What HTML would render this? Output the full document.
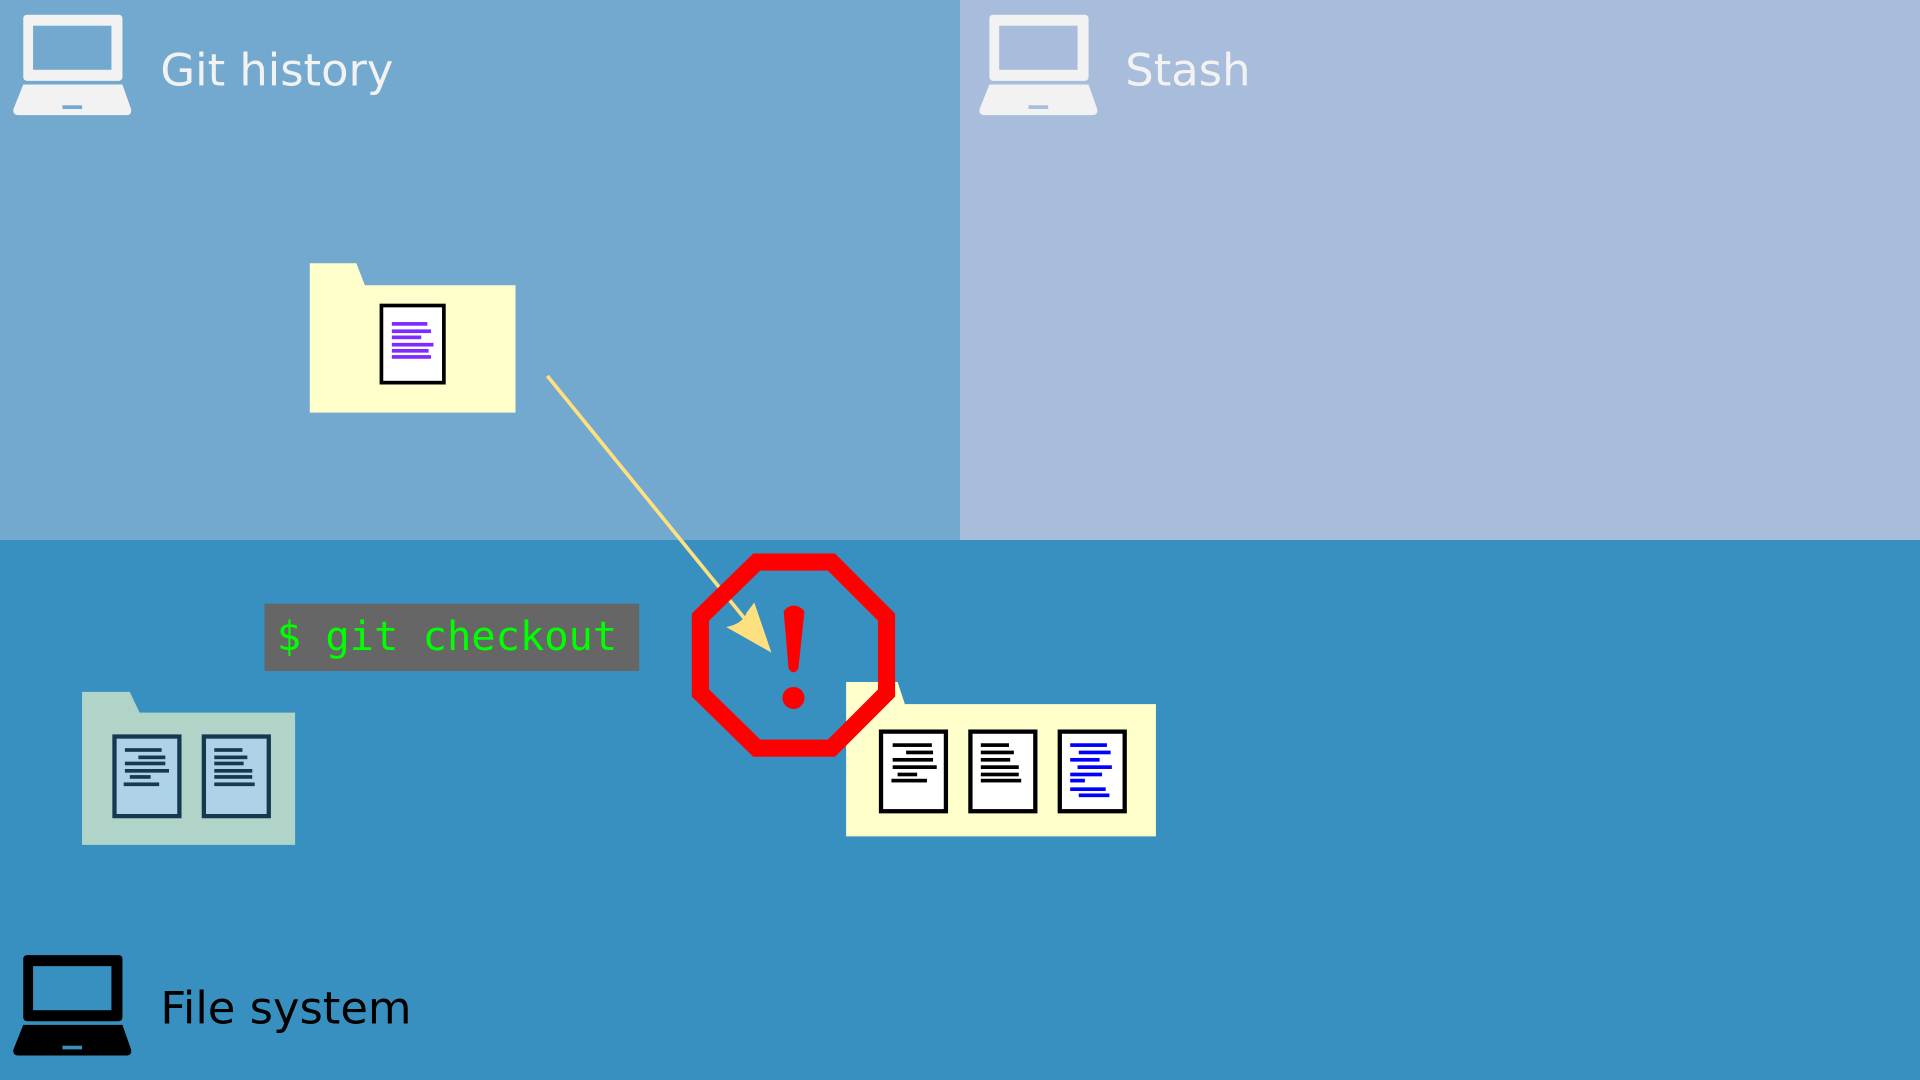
<!DOCTYPE html>
<html><head><meta charset="utf-8"><style>html,body{margin:0;padding:0;width:1920px;height:1080px;overflow:hidden}</style></head>
<body>
<svg width="1920" height="1080" viewBox="0 0 1568 882" xmlns="http://www.w3.org/2000/svg">
<rect x="0" y="0" width="784" height="441" fill="#73a8cf"/>
<rect x="784" y="0" width="784" height="441" fill="#a8bcdb"/>
<rect x="0" y="441" width="1568" height="441" fill="#3790c0"/>

<!-- laptops -->
<g fill="#f2f2f2">
<rect x="19" y="12" width="81" height="54" rx="3"/>
<path d="M19,69 L100,69 L107,89 Q108,94 103,94 L15,94 Q10,94 11,89 Z"/>
</g>
<rect x="27" y="21" width="64" height="36" fill="#73a8cf"/>
<rect x="51" y="86" width="16" height="3" fill="#73a8cf"/>
<text x="131" y="70" font-family="DejaVu Sans, Liberation Sans, sans-serif" font-size="36.6" fill="#f2f2f2">Git history</text>

<g transform="translate(789,0)">
<g fill="#f2f2f2">
<rect x="19" y="12" width="81" height="54" rx="3"/>
<path d="M19,69 L100,69 L107,89 Q108,94 103,94 L15,94 Q10,94 11,89 Z"/>
</g>
<rect x="27" y="21" width="64" height="36" fill="#a8bcdb"/>
<rect x="51" y="86" width="16" height="3" fill="#a8bcdb"/>
</g>
<text x="919" y="70" font-family="DejaVu Sans, Liberation Sans, sans-serif" font-size="36.6" fill="#f2f2f2">Stash</text>

<g transform="translate(0,768)">
<g fill="#000">
<rect x="19" y="12" width="81" height="54" rx="3"/>
<path d="M19,69 L100,69 L107,89 Q108,94 103,94 L15,94 Q10,94 11,89 Z"/>
</g>
<rect x="27" y="21" width="64" height="36" fill="#3790c0"/>
<rect x="51" y="86" width="16" height="3" fill="#3790c0"/>
</g>
<text x="131" y="836" font-family="DejaVu Sans, Liberation Sans, sans-serif" font-size="36.6" fill="#000">File system</text>

<!-- top folder -->
<path d="M253,215 L291,215 L298,233 L421,233 L421,337 L253,337 Z" fill="#ffffcc"/>
<rect x="311.5" y="249.5" width="51" height="63" fill="#fff" stroke="#000" stroke-width="3"/>
<g fill="#7f2aff">
<rect x="320" y="263" width="29" height="3"/><rect x="320" y="269" width="32" height="3"/>
<rect x="320" y="274" width="24" height="3"/><rect x="320" y="280" width="34" height="3"/>
<rect x="320" y="285" width="30" height="3"/><rect x="320" y="290" width="32" height="3"/>
</g>

<!-- arrow -->
<line x1="447" y1="307" x2="608" y2="505" stroke="#ffe080" stroke-width="3"/>
<path d="M630,533 L593,512 Q606,510 610,500 L616,492 Z" fill="#ffe080"/>

<!-- gray command -->
<rect x="216" y="493" width="306" height="55" fill="#666"/>
<text x="226" y="531" font-family="DejaVu Sans Mono, Liberation Mono, monospace" font-size="33" fill="#00ff00">$ git checkout</text>

<!-- left folder -->
<path d="M67,565 L106,565 L114,582 L241,582 L241,690 L67,690 Z" fill="#b0d4c8"/>
<rect x="93.5" y="601.5" width="53" height="65" fill="#afd3e6" stroke="#17394f" stroke-width="3.5"/>
<rect x="166.5" y="601.5" width="53" height="65" fill="#afd3e6" stroke="#17394f" stroke-width="3.5"/>
<g fill="#17394f">
<rect x="102" y="611" width="30" height="3"/><rect x="113" y="617" width="22" height="3"/>
<rect x="102" y="622" width="33" height="3"/><rect x="102" y="628" width="36" height="3"/>
<rect x="106" y="633" width="17" height="3"/><rect x="101" y="639" width="29" height="3"/>
<rect x="175" y="611" width="23" height="3"/><rect x="175" y="617" width="27" height="3"/>
<rect x="175" y="622" width="24" height="3"/><rect x="175" y="628" width="31" height="3"/>
<rect x="175" y="633" width="31" height="3"/><rect x="175" y="639" width="33" height="3"/>
</g>

<!-- right folder -->
<path d="M691,557 L733,557 L739,575 L944,575 L944,683 L691,683 Z" fill="#ffffcc"/>
<rect x="719.5" y="597.5" width="53" height="65" fill="#fff" stroke="#000" stroke-width="3.5"/>
<rect x="792.5" y="597.5" width="53" height="65" fill="#fff" stroke="#000" stroke-width="3.5"/>
<rect x="865.5" y="597.5" width="53" height="65" fill="#fff" stroke="#000" stroke-width="3.5"/>
<g fill="#000">
<rect x="729" y="607" width="32" height="3"/><rect x="740" y="613" width="22" height="3"/>
<rect x="729" y="619" width="33" height="3"/><rect x="729" y="625" width="36" height="3"/>
<rect x="733" y="631" width="16" height="3"/><rect x="728" y="636" width="29" height="3"/>
<rect x="801" y="607" width="23" height="3"/><rect x="801" y="613" width="27" height="3"/>
<rect x="801" y="619" width="24" height="3"/><rect x="801" y="625" width="31" height="3"/>
<rect x="801" y="631" width="31" height="3"/><rect x="801" y="636" width="33" height="3"/>
</g>
<g fill="#0000ff">
<rect x="874" y="607" width="30" height="3"/><rect x="881" y="613" width="26" height="3"/>
<rect x="874" y="619" width="24" height="3"/><rect x="880" y="625" width="28" height="3"/>
<rect x="874" y="631" width="26" height="3"/><rect x="874" y="636" width="12" height="3"/>
<rect x="874" y="643" width="29" height="3"/><rect x="881" y="648" width="25" height="3"/>
</g>

<!-- stop octagon -->
<path d="M618,459 L679,459 L724,504 L724,566 L679,611 L618,611 L572,566 L572,504 Z" fill="none" stroke="#ff0000" stroke-width="14" stroke-linejoin="miter"/>
<path d="M640,499 Q648,490 657,499 L652,546 Q648,552 644,546 Z" fill="#ff0000"/>
<circle cx="648" cy="570" r="9" fill="#ff0000"/>
</svg>
</body></html>
